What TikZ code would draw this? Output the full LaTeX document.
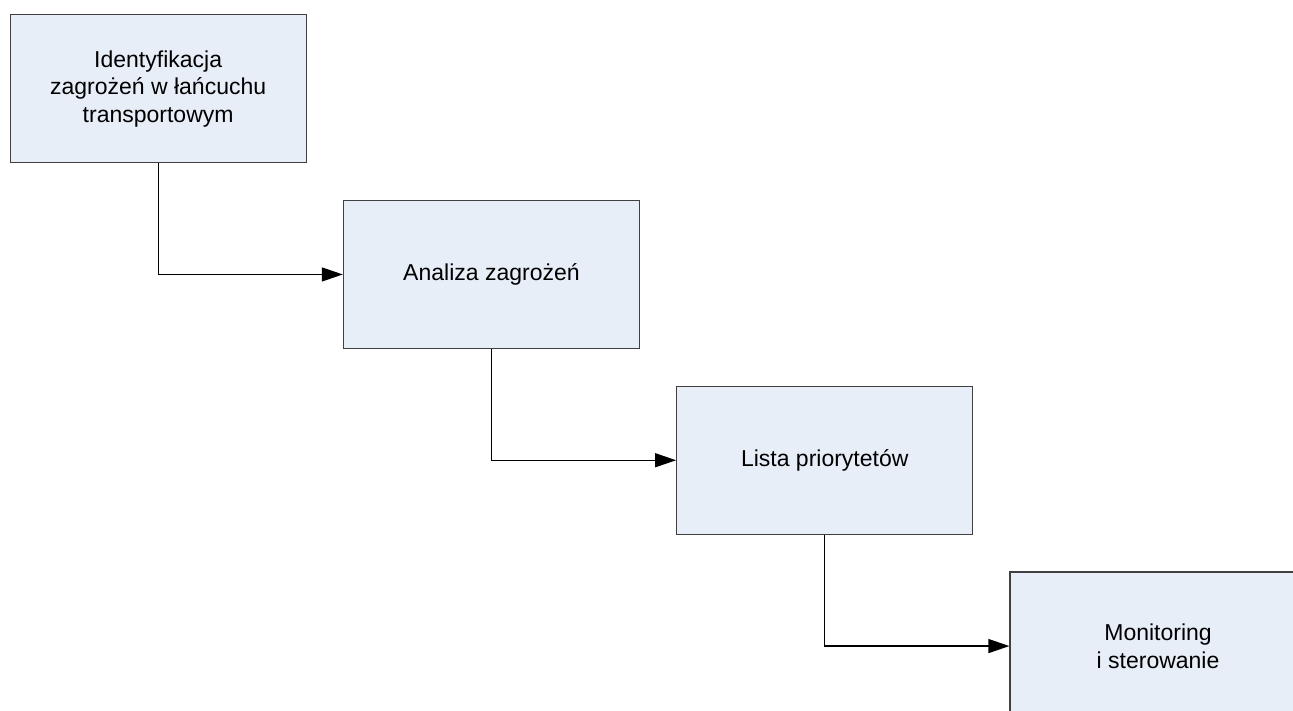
\documentclass[tikz,border=0pt]{standalone}
\usepackage{fontspec}
\setmainfont{Liberation Sans}
\usetikzlibrary{positioning,arrows.meta}
\definecolor{blok}{HTML}{E8EEF8}
\definecolor{ramka}{HTML}{404040}

\begin{document}
\begin{tikzpicture}[x=1pt,y=1pt,
    etap/.style={draw=ramka,fill=blok,line width=1.3pt,minimum width=296pt,minimum height=148pt,
      inner sep=0pt,align=center,font=\fontsize{23}{27.5}\selectfont},
    strzalka/.style={line width=1.3pt,-{Triangle[length=21pt,width=14pt]}}]
      \useasboundingbox (0,0) rectangle (1293,-710);
      \clip (0,0) rectangle (1293,-710);
      \node[etap,anchor=north west] (ident) at (9.5,-14) {Identyfikacja\\zagrożeń w łańcuchu\\transportowym};
      \node[etap,below right=36.5pt and 36pt of ident] (analiza) {Analiza zagrożeń};
      \node[etap,below right=36.5pt and 36pt of analiza] (lista) {Lista priorytetów};
      \node[etap,below right=36.5pt and 36pt of lista] (monit) {Monitoring\\i sterowanie};
      \draw[strzalka] (ident.south) |- (analiza.west);
      \draw[strzalka] (analiza.south) |- (lista.west);
      \draw[strzalka] (lista.south) |- (monit.west);
\end{tikzpicture}
\end{document}
